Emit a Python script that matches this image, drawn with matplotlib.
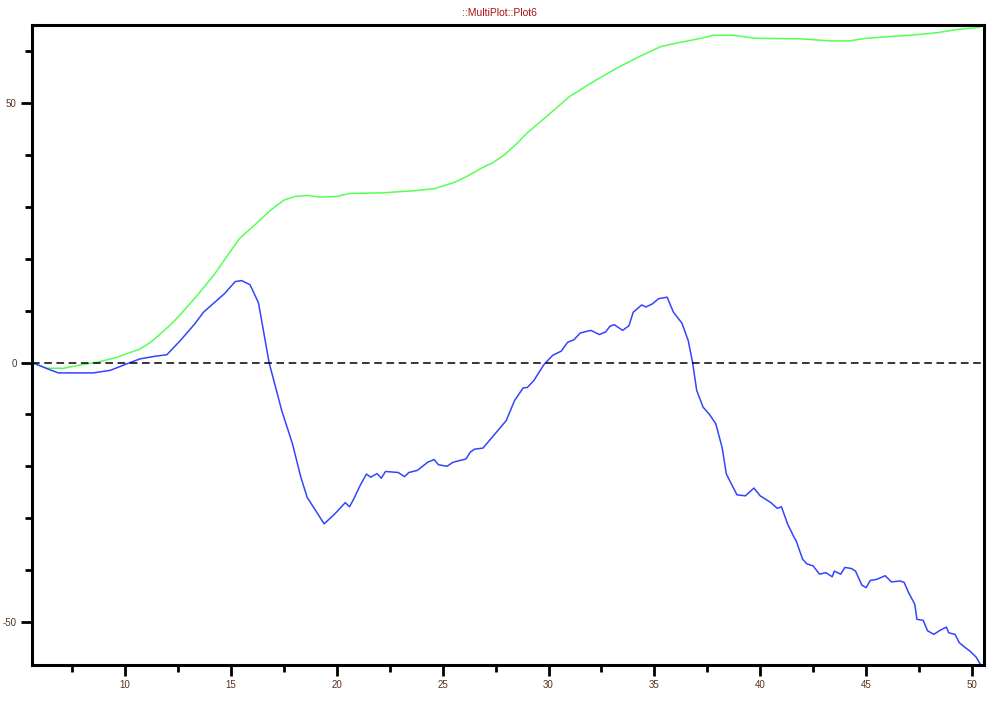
import matplotlib.pyplot as plt
from matplotlib.ticker import MultipleLocator

plt.rcParams["axes.unicode_minus"] = False
plt.rcParams["font.family"] = ["Liberation Sans", "DejaVu Sans"]

# green curve
green_x = [5.6, 6.3, 7.1, 7.9, 8.7, 9.6, 10.7, 11.2, 11.6, 12.1, 12.6, 13.4, 14.2, 14.97,
           15.4, 16.2, 16.85, 17.5, 18.0, 18.6, 19.2, 20.0, 20.6, 22.1, 23.6, 24.6,
           25.6, 26.2, 26.8, 27.4, 27.9, 28.5, 29.0, 29.9, 31.0, 32.1, 33.2, 34.3, 35.3, 36.2, 37.2,
           37.8, 38.7, 39.8, 41.9, 43.3, 44.2, 45.0, 46.3, 47.4, 48.4, 49.3, 50.3, 50.57]
green_y = [0.0, -1.1, -1.1, -0.45, 0.06, 1.0, 2.6, 3.9, 5.3, 7.1, 9.2, 12.9, 16.9, 21.4,
           23.9, 26.8, 29.3, 31.3, 32.0, 32.2, 31.9, 32.0, 32.6, 32.7, 33.1, 33.5,
           34.8, 36.0, 37.4, 38.6, 40.0, 42.2, 44.3, 47.4, 51.3, 54.1, 56.7, 59.0, 60.9, 61.7, 62.5,
           63.1, 63.1, 62.5, 62.4, 62.0, 62.0, 62.5, 62.9, 63.2, 63.6, 64.2, 64.6, 65.0]

# blue curve
blue_x = [5.6, 6.45, 6.85, 8.5, 9.3, 10.24, 10.7, 11.4, 11.97, 12.6, 13.3, 13.7, 14.7,
          15.2, 15.5, 15.9, 16.3, 16.8, 17.4, 17.9, 18.3, 18.6, 18.9, 19.4, 19.9, 20.4,
          20.6, 20.8, 21.1, 21.4, 21.6, 21.9, 22.1, 22.3, 22.9, 23.2, 23.4, 23.8, 24.3,
          24.6, 24.8, 25.2, 25.5, 26.1, 26.3, 26.5, 26.9, 27.4, 28.0, 28.4, 28.8, 29.0,
          29.3, 29.8, 30.2, 30.6, 30.9, 31.2, 31.5, 32.0, 32.4, 32.7, 32.9, 33.1, 33.5,
          33.8, 34.0, 34.4, 34.6, 34.9, 35.2, 35.6, 35.9, 36.3, 36.6, 36.8, 37.0, 37.3,
          37.6, 37.9, 38.2, 38.4, 38.9, 39.3, 39.7, 40.0, 40.5, 40.8, 41.0, 41.3, 41.6,
          41.7, 42.0, 42.2, 42.5, 42.8, 43.1, 43.4, 43.5, 43.8, 44.0, 44.3, 44.5, 44.8,
          45.0, 45.2, 45.5, 45.9, 46.2, 46.6, 46.8, 47.0, 47.3, 47.4, 47.7, 47.9, 48.2,
          48.5, 48.8, 48.9, 49.2, 49.4, 49.7, 49.9, 50.2, 50.4, 50.57]
blue_y = [0.0, -1.4, -2.0, -2.0, -1.5, 0.0, 0.7, 1.2, 1.5, 4.2, 7.5, 9.7, 13.3,
          15.6, 15.8, 15.0, 11.5, 0.0, -9.3, -15.6, -22.1, -26.0, -27.9, -31.1, -29.2, -27.0,
          -27.8, -26.3, -23.7, -21.5, -22.1, -21.4, -22.3, -21.0, -21.2, -22.0, -21.2, -20.8, -19.2,
          -18.7, -19.7, -20.0, -19.2, -18.6, -17.3, -16.7, -16.5, -14.1, -11.2, -7.3, -4.9, -4.8,
          -3.5, -0.3, 1.4, 2.2, 3.9, 4.4, 5.7, 6.2, 5.4, 5.9, 7.0, 7.3, 6.2,
          7.1, 9.7, 11.1, 10.7, 11.3, 12.3, 12.6, 9.7, 7.6, 4.2, 0.1, -5.4, -8.6,
          -10.0, -11.8, -16.4, -21.5, -25.5, -25.7, -24.2, -25.7, -27.0, -28.1, -27.8, -31.2, -33.7,
          -34.4, -37.9, -38.8, -39.2, -40.8, -40.5, -41.3, -40.2, -40.8, -39.5, -39.7, -40.2, -42.9,
          -43.4, -42.0, -41.8, -41.1, -42.3, -42.1, -42.4, -44.3, -46.6, -49.5, -49.7, -51.7, -52.4,
          -51.6, -51.0, -52.1, -52.4, -54.0, -55.0, -55.6, -56.8, -58.2, -58.5]

fig = plt.figure(figsize=(9.99, 7.01), dpi=100)
ax = fig.add_axes([0.032, 0.0514, 0.953, 0.9129])

ax.plot(green_x, green_y, color="#55ff55", lw=1.1)
ax.plot(blue_x, blue_y, color="#3344ff", lw=1.1)
ax.axhline(0, color="black", lw=1.1, ls=(0, (5, 3)))

ax.set_xlim(5.6, 50.57)
ax.set_ylim(-58.3, 65.06)
ax.xaxis.set_major_locator(MultipleLocator(5))
ax.xaxis.set_minor_locator(MultipleLocator(2.5))
ax.yaxis.set_major_locator(MultipleLocator(50))
ax.yaxis.set_minor_locator(MultipleLocator(10))

for s in ax.spines.values():
    s.set_linewidth(2.2)
ax.tick_params(which="major", direction="out", length=8, width=2, labelsize=7,
               labelcolor="#553322", pad=3)
ax.tick_params(which="minor", direction="out", length=5, width=2)
ax.tick_params(top=False, right=False)

fig.text(0.5, 0.982, "::MultiPlot::Plot6", ha="center", va="center",
         fontsize=7.5, color="#aa1111")

fig.savefig("out.png", dpi=100)
